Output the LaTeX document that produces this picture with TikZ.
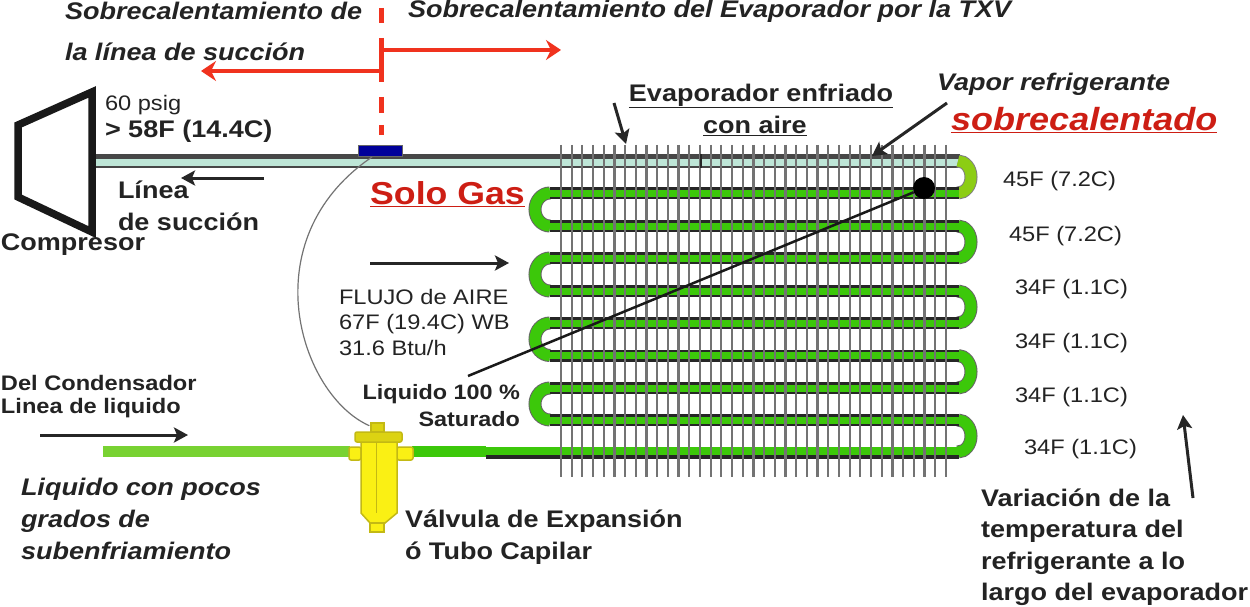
\documentclass[tikz,border=0pt]{standalone}
\usepackage{fontspec}
\setmainfont[FakeStretch=1.125]{Liberation Sans}
\usetikzlibrary{arrows.meta}
\definecolor{redarrow}{RGB}{240,50,30}
\definecolor{redtext}{RGB}{205,30,20}
\definecolor{tubeg}{RGB}{60,200,10}
\definecolor{tubel}{RGB}{120,210,50}
\definecolor{tubeo}{RGB}{140,205,20}
\definecolor{suct}{RGB}{190,230,215}
\definecolor{txt}{RGB}{35,35,35}
\definecolor{valve}{RGB}{250,240,20}
\definecolor{valved}{RGB}{195,185,20}
\tikzset{
 lab/.style={inner sep=0pt,outer sep=0pt,text=txt,align=left,font=\fontsize{24}{32}\selectfont\bfseries},
 labi/.style={lab,font=\fontsize{24}{32}\selectfont\bfseries\itshape},
 thin lab/.style={lab,font=\fontsize{21}{25.5}\selectfont},
 temp/.style={lab,font=\fontsize{21}{24}\selectfont},
 small bold/.style={lab,font=\fontsize{21}{25}\selectfont\bfseries},
 redsep/.style={draw=redarrow,line width=5pt},
 redarr/.style={draw=redarrow,line width=3.5pt,-{Stealth[length=15pt,width=20pt,inset=5pt]}},
 blkarr/.style={draw=black!85,line width=3pt,-{Stealth[length=14pt,width=15pt,inset=3pt]}},
 fin/.style={draw=black!55,line width=2.2pt},
 pipeout/.style={draw=black!85,line width=12pt,line cap=butt},
 pipein/.style={draw=tubeg,line width=7pt,line cap=butt},
 ubend/.style={draw=black!60,line width=13pt},
 ubendin/.style={draw=tubeg,line width=11pt},
 valvepart/.style={draw=valved,fill=valve,line width=1.5pt},
}
\begin{document}
\begin{tikzpicture}[x=1pt,y=-1pt]
\useasboundingbox (0,0) rectangle (1250,607);
\fill[white] (0,0) rectangle (1250,607);
% ---- red separator
\coordinate (rA) at (381,50);
\coordinate (rAe) at (561,50);
\coordinate (lA) at (381,71);
\coordinate (lAe) at (201,71);
\draw[redsep] (381,8) -- (381,23);
\draw[redsep] (381,38) -- (381,82);
\draw[redsep] (381,97) -- (381,113);
\draw[redsep] (381,125) -- (381,135);
\draw[redarr] (rA) -- (rAe);
\draw[redarr] (lA) -- (lAe);
% ---- suction line
\draw[draw=black!72,line width=13pt] (93,161) -- (960,161);
\draw[draw=suct,line width=7pt] (93,162) -- (960,162);
% ---- coil: U bends
\foreach \ya/\yb in {193/226,258/291,323/355.5,388/420}{
  \draw[ubend] (550,\ya) arc[start angle=270,end angle=90,x radius=15,y radius={(\yb-\ya)/2}];
  \draw[ubendin] (550,\ya) arc[start angle=270,end angle=90,x radius=15,y radius={(\yb-\ya)/2}];
}
\foreach \ya/\yb in {226/258,291/323,355.5/388,420/452}{
  \draw[ubend] (958,\ya) arc[start angle=-90,end angle=90,x radius=13,y radius={(\yb-\ya)/2}];
  \draw[ubendin] (958,\ya) arc[start angle=-90,end angle=90,x radius=13,y radius={(\yb-\ya)/2}];
}
\draw[ubend,draw=black!50] (958,161) arc[start angle=-90,end angle=90,x radius=13,y radius=16];
\draw[ubendin,draw=tubeo] (958,161) arc[start angle=-90,end angle=90,x radius=13,y radius=16];
% ---- straight runs
\foreach \y in {193,226,258,291,323,355.5,388,420}{
  \draw[pipeout] (550,\y) -- (959,\y);
  \draw[pipein] (550,\y) -- (959,\y);
}
% ---- liquid line
\draw[draw=tubel,line width=11pt] (103,451) -- (350,451);
\draw[draw=black!85,line width=12pt] (486,452.5) -- (959,452.5);
\draw[draw=tubeg,line width=11pt] (412,451) -- (486,451);
\draw[draw=tubeg,line width=8pt] (486,451) -- (959,451);
% ---- fins
\foreach \i in {0,...,36}{
  \pgfmathsetmacro{\xx}{561+\i*10.69}
  \draw[fin] (\xx,145) -- (\xx,477);
}
\draw[draw=black!85,line width=1.5pt] (701,154) -- (701,168);
% ---- sensing bulb and capillary
\node[draw=black!60,line width=.8pt,fill=blue!60!black,minimum width=44pt,minimum height=11pt,inner sep=0pt] (bulb) at (380,150.5) {};
\coordinate (capT) at (372,157);
% ---- valve
\draw[valvepart,rounded corners=2pt] (349,447) rectangle (361,460);
\draw[valvepart,rounded corners=2pt] (397,447) rectangle (413,460);
\draw[valvepart] (361,442) -- (397,442) -- (397,513) -- (385,523) -- (370,523) -- (361,513) -- cycle;
\draw[valvepart] (370,523) rectangle (384,532);
\draw[draw=valved,line width=1.5pt] (376.5,442) -- (376.5,513);
\draw[valvepart,rounded corners=2pt,fill=valve!88!black] (355,432) rectangle (402,442);
\draw[valvepart,fill=valve!88!black] (371,423) rectangle (384,432);
\node[inner sep=0pt] (valvecap) at (370,426) {};
\draw[draw=black!55,line width=1.2pt] (capT) .. controls (250,240) and (300,395) .. (valvecap);
% ---- compressor
\draw[draw=black!90,line width=7.5pt,line join=miter] (92,92) -- (18,125) -- (18,197) -- (92,232) -- cycle;
% ---- black arrows
\coordinate (suA) at (264,178); \coordinate (suB) at (181,178);
\coordinate (aiA) at (370,263); \coordinate (aiB) at (509,263);
\coordinate (coA) at (40,435); \coordinate (coB) at (188,435);
\coordinate (evA) at (614,103); \coordinate (evB) at (626,144);
\coordinate (vaA) at (947,103); \coordinate (vaB) at (872,156);
\coordinate (teA) at (1193,498); \coordinate (teB) at (1183,415);
\draw[blkarr] (suA) -- (suB);
\draw[blkarr] (aiA) -- (aiB);
\draw[blkarr] (coA) -- (coB);
\draw[blkarr] (evA) -- (evB);
\draw[blkarr] (vaA) -- (vaB);
\draw[blkarr] (teA) -- (teB);
% ---- saturation marker
\node[circle,fill=black,minimum size=22pt,inner sep=0pt] (dot) at (924,188) {};
\coordinate (liqS) at (468,376);
\draw[black!90,line width=2.5pt] (liqS) -- (dot);
% ---- texts
\node[labi,anchor=west] (t1) at (65,11) {Sobrecalentamiento de};
\node[labi,anchor=west] (t2) at (65,52) {la línea de succión};
\node[labi,anchor=west] (t3) at (408,11) {Sobrecalentamiento del Evaporador por la TXV};
\node[thin lab,anchor=west] (t4) at (105,105) {60 psig};
\node[lab,anchor=west] (t5) at (105,131) {> 58F (14.4C)};
\node[lab,anchor=west] (t6) at (118,190) {Línea};
\node[lab,anchor=west] (t7) at (118,222) {de succión};
\node[lab,anchor=west] (t8) at (1,245) {Compresor};
\node[text=redtext,inner sep=0pt,font=\fontsize{31.7}{34}\selectfont\bfseries,anchor=west] (t9) at (370,194) {\underline{Solo Gas}};
\node[lab,anchor=center] (t10) at (761,96) {\underline{Evaporador enfriado}};
\node[lab,anchor=center] (t11) at (755,126) {\underline{con aire}};
\node[labi,anchor=west] (t12) at (937,84) {Vapor refrigerante};
\node[text=redtext,inner sep=0pt,anchor=west,font=\fontsize{32}{36}\selectfont\bfseries\itshape] (t13) at (951,120) {\underline{sobrecalentado}};
\node[thin lab,anchor=north west] (t14) at (339,289) {FLUJO de AIRE\\67F (19.4C) WB\\31.6 Btu/h};
\node[lab,align=right,anchor=east,font=\fontsize{20.8}{27}\selectfont\bfseries] (t15) at (520,406) {Liquido 100 \%\\Saturado};
\node[small bold,anchor=west] (t16) at (1,383) {Del Condensador};
\node[small bold,anchor=west] (t17) at (1,408) {Linea de liquido};
\node[labi,anchor=north west] (t18) at (21,478) {Liquido con pocos\\grados de\\subenfriamiento};
\node[lab,anchor=north west] (t19) at (405,510) {Válvula de Expansión\\ó Tubo Capilar};
\node[lab,anchor=north west,font=\fontsize{24}{31.2}\selectfont\bfseries] (t20) at (981,489) {Variación de la\\temperatura del\\refrigerante a lo\\largo del evaporador};
\node[temp,anchor=west] (a1) at (1003,181) {45F (7.2C)};
\node[temp,anchor=west] (a2) at (1009,236) {45F (7.2C)};
\node[temp,anchor=west] (a3) at (1015,289) {34F (1.1C)};
\node[temp,anchor=west] (a4) at (1015,343) {34F (1.1C)};
\node[temp,anchor=west] (a5) at (1015,397) {34F (1.1C)};
\node[temp,anchor=west] (a6) at (1024,449) {34F (1.1C)};
\end{tikzpicture}
\end{document}
